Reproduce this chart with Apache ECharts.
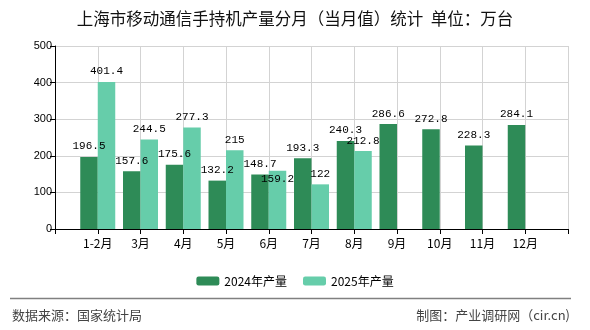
<!DOCTYPE html>
<html>
<head>
<meta charset="utf-8">
<script src="https://cdn.jsdelivr.net/npm/echarts@6/dist/echarts.min.js"></script>
<style>html,body{margin:0;padding:0;background:#fff;}#c{width:590px;height:330px;}</style>
</head>
<body>
<div id="c"></div>
<script>
const titleText = '上海市移动通信手持机产量分月（当月值）统计  单位：万台';
const categories = ['1-2月', '3月', '4月', '5月', '6月', '7月', '8月', '9月', '10月', '11月', '12月'];
const series2024 = [196.5, 157.6, 175.6, 132.2, 148.7, 193.3, 240.3, 286.6, 272.8, 228.3, 284.1];
const series2025 = [401.4, 244.5, 277.3, 215, 159.2, 122, 212.8, null, null, null, null];
const seriesNames = ['2024年产量', '2025年产量'];
const yTicks = [0, 100, 200, 300, 400, 500];
const sourceText = '数据来源：国家统计局';
const creditText = '制图：产业调研网（cir.cn)';

const axisCats = [''].concat(categories, ['']);
const pad = arr => [null].concat(arr, [null]);

const labelStyle = {
  show: true, position: 'top', distance: 5,
  fontFamily: 'Liberation Mono, monospace', fontSize: 11, color: '#000'
};

const d2025 = pad(series2025).map((v, i) => {
  if (categories[i - 1] === '6月' && v != null) {
    return { value: v, label: { offset: [0, 19] } };
  }
  return v;
});

const chart = echarts.init(document.getElementById('c'), null, { renderer: 'canvas' });
chart.setOption({
  animation: false,
  backgroundColor: '#fff',
  title: {
    text: titleText, left: 'center', top: 5,
    textStyle: { fontFamily: 'Noto Sans CJK SC', fontSize: 16.5, fontWeight: 'normal', color: '#111' }
  },
  legend: {
    data: seriesNames, left: 'center', top: 270,
    itemWidth: 23, itemHeight: 9, itemGap: 16,
    textStyle: { fontFamily: 'Noto Sans CJK SC', fontSize: 12, color: '#000' }
  },
  grid: { left: 55, right: 22, top: 46, bottom: 101, containLabel: false, outerBoundsMode: 'none' },
  xAxis: {
    type: 'category', data: axisCats, boundaryGap: false,
    axisLine: { lineStyle: { color: '#000', width: 1 } },
    axisTick: { show: true, length: 5, lineStyle: { color: '#000' } },
    axisLabel: { interval: 0, margin: 8, fontFamily: 'Noto Sans CJK SC', fontSize: 12, color: '#000' },
    splitLine: { show: true, lineStyle: { color: '#d3d3d3', width: 1 } }
  },
  yAxis: {
    type: 'value', min: yTicks[0], max: yTicks[yTicks.length - 1], interval: 100,
    axisLine: { show: true, lineStyle: { color: '#000', width: 1 } },
    axisTick: { show: true, length: 5, lineStyle: { color: '#000' } },
    axisLabel: { margin: 3, fontFamily: 'Liberation Sans, Arial', fontSize: 11, color: '#000' },
    splitLine: { show: true, lineStyle: { color: '#d3d3d3', width: 1 } }
  },
  series: [
    {
      name: seriesNames[0], type: 'bar', data: pad(series2024),
      barWidth: 17.5, barGap: '0%',
      itemStyle: { color: '#2E8B57' }, label: labelStyle
    },
    {
      name: seriesNames[1], type: 'bar', data: d2025,
      barWidth: 17.5, barGap: '0%',
      itemStyle: { color: '#66CDAA' }, label: labelStyle
    }
  ],
  graphic: [
    { type: 'line', shape: { x1: 10, y1: 298.5, x2: 571, y2: 298.5 }, style: { stroke: '#808080', lineWidth: 1.5 } },
    { type: 'text', left: 12, top: 309, style: { text: sourceText, font: '13px "Noto Sans CJK SC"', fill: '#444' } },
    { type: 'text', right: 20, top: 309, style: { text: creditText, font: '13px "Noto Sans CJK SC"', fill: '#444' } }
  ]
});
</script>
</body>
</html>
